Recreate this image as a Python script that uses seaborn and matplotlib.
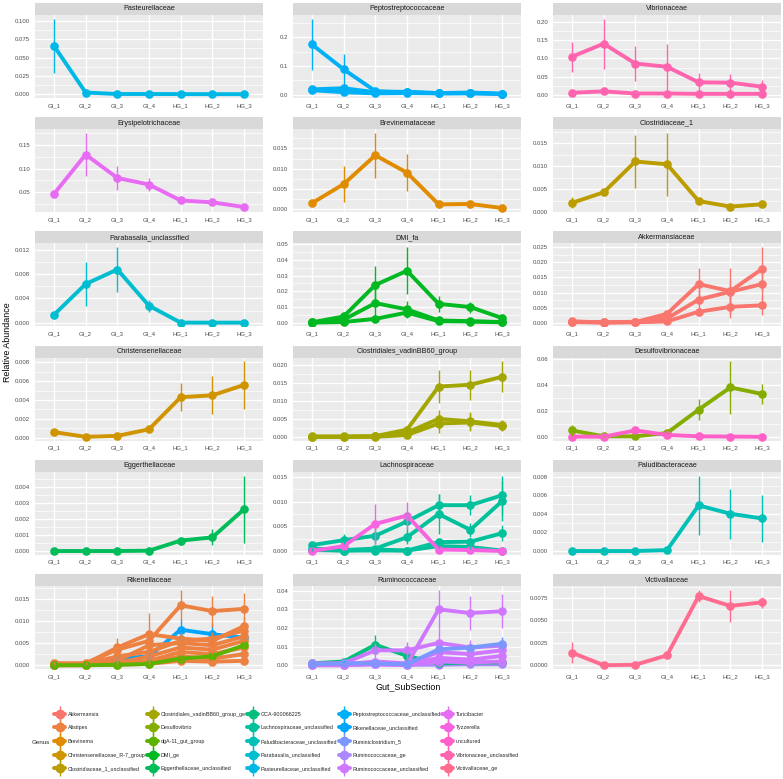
import numpy as np
import pandas as pd
import matplotlib
matplotlib.use("Agg")
import matplotlib.pyplot as plt
from matplotlib.lines import Line2D
from matplotlib.legend_handler import HandlerTuple
from matplotlib.ticker import FixedLocator, MultipleLocator
import seaborn as sns

SECTIONS = ["GI_1", "GI_2", "GI_3", "GI_4", "HG_1", "HG_2", "HG_3"]

FAMILIES = [
    "Pasteurellaceae", "Peptostreptococcaceae", "Vibrionaceae",
    "Erysipelotrichaceae", "Brevinemataceae", "Clostridiaceae_1",
    "Parabasalia_unclassified", "DMI_fa", "Akkermansiaceae",
    "Christensenellaceae", "Clostridiales_vadinBB60_group", "Desulfovibrionaceae",
    "Eggerthellaceae", "Lachnospiraceae", "Paludibacteraceae",
    "Rikenellaceae", "Ruminococcaceae", "Victivallaceae",
]

GENERA = [
    "Akkermansia", "Alistipes", "Brevinema", "Christensenellaceae_R-7_group",
    "Clostridiaceae_1_unclassified", "Clostridiales_vadinBB60_group_ge",
    "Desulfovibrio", "dgA-11_gut_group", "DMI_ge", "Eggerthellaceae_unclassified",
    "GCA-900066225", "Lachnospiraceae_unclassified", "Paludibacteraceae_unclassified",
    "Parabasalia_unclassified", "Pasteurellaceae_unclassified",
    "Peptostreptococcaceae_unclassified", "Rikenellaceae_unclassified",
    "Ruminiclostridium_5", "Ruminococcaceae_ge", "Ruminococcaceae_unclassified",
    "Turicibacter", "Tyzzerella", "uncultured", "Vibrionaceae_unclassified",
    "Victivallaceae_ge",
]

# (genus, mean per section, standard error per section)
PASTEURELLACEAE = [
    ("Pasteurellaceae_unclassified",
     [0.066, 0.0025, 0.0005, 0.0005, 0.0004, 0.0003, 0.0003],
     [0.037, 0.001, 0.0002, 0.0002, 0.0001, 0.0001, 0.0001]),
]
PEPTOSTREPTOCOCCACEAE = [
    ("Peptostreptococcaceae_unclassified",
     [0.175, 0.088, 0.012, 0.008, 0.004, 0.005, 0.002],
     [0.090, 0.053, 0.003, 0.002, 0.001, 0.001, 0.001]),
    ("Peptostreptococcaceae_unclassified",
     [0.018, 0.022, 0.008, 0.010, 0.005, 0.007, 0.003],
     [0.004, 0.006, 0.002, 0.002, 0.001, 0.002, 0.001]),
    ("Peptostreptococcaceae_unclassified",
     [0.015, 0.008, 0.004, 0.005, 0.004, 0.004, 0.002],
     [0.003, 0.002, 0.001, 0.001, 0.001, 0.001, 0.001]),
]
VIBRIONACEAE = [
    ("Vibrionaceae_unclassified",
     [0.105, 0.141, 0.086, 0.077, 0.034, 0.033, 0.022],
     [0.042, 0.069, 0.048, 0.063, 0.025, 0.025, 0.018]),
    ("Vibrionaceae_unclassified",
     [0.005, 0.009, 0.003, 0.003, 0.002, 0.002, 0.002],
     [0.002, 0.003, 0.001, 0.001, 0.001, 0.001, 0.001]),
]
ERYSIPELOTRICHACEAE = [
    ("Turicibacter",
     [0.046, 0.130, 0.080, 0.066, 0.032, 0.028, 0.018],
     [0.004, 0.046, 0.025, 0.014, 0.004, 0.003, 0.003]),
]
BREVINEMATACEAE = [
    ("Brevinema",
     [0.0015, 0.0062, 0.0133, 0.0090, 0.0012, 0.0013, 0.0003],
     [0.0003, 0.0044, 0.0055, 0.0046, 0.0003, 0.0003, 0.0001]),
]
CLOSTRIDIACEAE_1 = [
    ("Clostridiaceae_1_unclassified",
     [0.0020, 0.0043, 0.0110, 0.0104, 0.0024, 0.0012, 0.0017],
     [0.0012, 0.0007, 0.0058, 0.0068, 0.0004, 0.0002, 0.0002]),
]
PARABASALIA = [
    ("Parabasalia_unclassified",
     [0.0013, 0.0064, 0.0088, 0.0028, 0.0000, 0.0000, 0.0000],
     [0.0002, 0.0036, 0.0037, 0.0010, 0.0000, 0.0000, 0.0000]),
]
DMI_FA = [
    ("DMI_ge",
     [0.0003, 0.0040, 0.0240, 0.0330, 0.0120, 0.0100, 0.0030],
     [0.0001, 0.0030, 0.0120, 0.0150, 0.0050, 0.0035, 0.0020]),
    ("DMI_ge",
     [0.0002, 0.0020, 0.0125, 0.0085, 0.0015, 0.0010, 0.0005],
     [0.0001, 0.0010, 0.0110, 0.0055, 0.0005, 0.0004, 0.0002]),
    ("DMI_ge",
     [0.0001, 0.0005, 0.0025, 0.0065, 0.0010, 0.0008, 0.0003],
     [0.0000, 0.0003, 0.0015, 0.0030, 0.0004, 0.0003, 0.0001]),
]
AKKERMANSIACEAE = [
    ("Akkermansia",
     [0.0005, 0.0002, 0.0003, 0.0030, 0.0128, 0.0105, 0.0178],
     [0.0002, 0.0001, 0.0001, 0.0008, 0.0052, 0.0075, 0.0072]),
    ("Akkermansia",
     [0.0004, 0.0002, 0.0004, 0.0015, 0.0077, 0.0103, 0.0128],
     [0.0002, 0.0001, 0.0001, 0.0005, 0.0035, 0.0040, 0.0048]),
    ("Akkermansia",
     [0.0003, 0.0001, 0.0002, 0.0005, 0.0037, 0.0053, 0.0058],
     [0.0001, 0.0000, 0.0001, 0.0002, 0.0015, 0.0038, 0.0032]),
]
CHRISTENSENELLACEAE = [
    ("Christensenellaceae_R-7_group",
     [0.0006, 0.0001, 0.0002, 0.0009, 0.0043, 0.0045, 0.0056],
     [0.0001, 0.0000, 0.0001, 0.0002, 0.0015, 0.0020, 0.0025]),
]
VADINBB60 = [
    ("Clostridiales_vadinBB60_group_ge",
     [0.0001, 0.0001, 0.0002, 0.0020, 0.0140, 0.0145, 0.0167],
     [0.0000, 0.0000, 0.0001, 0.0004, 0.0045, 0.0042, 0.0043]),
    ("Clostridiales_vadinBB60_group_ge",
     [0.0000, 0.0000, 0.0001, 0.0012, 0.0050, 0.0043, 0.0033],
     [0.0000, 0.0000, 0.0000, 0.0003, 0.0025, 0.0025, 0.0015]),
    ("Clostridiales_vadinBB60_group_ge",
     [0.0000, 0.0000, 0.0000, 0.0005, 0.0037, 0.0040, 0.0030],
     [0.0000, 0.0000, 0.0000, 0.0002, 0.0027, 0.0025, 0.0015]),
]
DESULFOVIBRIONACEAE = [
    ("Desulfovibrio",
     [0.0050, 0.0005, 0.0005, 0.0030, 0.0210, 0.0380, 0.0330],
     [0.0040, 0.0002, 0.0002, 0.0010, 0.0080, 0.0200, 0.0080]),
    ("uncultured",
     [0.0003, 0.0002, 0.0050, 0.0015, 0.0005, 0.0003, 0.0001],
     [0.0001, 0.0001, 0.0015, 0.0005, 0.0002, 0.0001, 0.0000]),
]
EGGERTHELLACEAE = [
    ("Eggerthellaceae_unclassified",
     [0.0, 0.0, 0.0, 0.00002, 0.00065, 0.00085, 0.0026],
     [0.0, 0.0, 0.0, 0.00001, 0.00025, 0.0005, 0.0021]),
]
LACHNOSPIRACEAE = [
    ("Lachnospiraceae_unclassified",
     [0.0012, 0.0022, 0.0031, 0.0060, 0.0093, 0.0093, 0.0113],
     [0.0003, 0.0012, 0.0016, 0.0022, 0.0022, 0.0020, 0.0040]),
    ("Lachnospiraceae_unclassified",
     [0.0005, 0.0002, 0.0005, 0.0028, 0.0075, 0.0043, 0.0101],
     [0.0002, 0.0001, 0.0002, 0.0013, 0.0040, 0.0014, 0.0040]),
    ("Lachnospiraceae_unclassified",
     [0.0003, 0.0001, 0.0003, 0.0001, 0.0018, 0.0019, 0.0036],
     [0.0001, 0.0000, 0.0001, 0.0000, 0.0005, 0.0005, 0.0016]),
    ("Lachnospiraceae_unclassified",
     [0.0002, 0.0001, 0.0001, 0.0001, 0.0010, 0.0008, 0.0001],
     [0.0001, 0.0000, 0.0000, 0.0000, 0.0003, 0.0003, 0.0000]),
    ("Tyzzerella",
     [0.0000, 0.0010, 0.0055, 0.0072, 0.0003, 0.0002, 0.0000],
     [0.0000, 0.0005, 0.0040, 0.0028, 0.0001, 0.0001, 0.0000]),
]
PALUDIBACTERACEAE = [
    ("Paludibacteraceae_unclassified",
     [0.0, 0.0, 0.0, 0.0001, 0.0049, 0.0040, 0.0035],
     [0.0, 0.0, 0.0, 0.00005, 0.0032, 0.0027, 0.0025]),
]
RIKENELLACEAE = [
    ("Rikenellaceae_unclassified",
     [0.0001, 0.0002, 0.0015, 0.0020, 0.0080, 0.0070, 0.0062],
     [0.0001, 0.0001, 0.0008, 0.0010, 0.0025, 0.0025, 0.0017]),
    ("Alistipes",
     [0.0003, 0.0005, 0.0035, 0.0055, 0.0135, 0.0122, 0.0127],
     [0.0001, 0.0002, 0.0012, 0.0015, 0.0035, 0.0035, 0.0036]),
    ("Alistipes",
     [0.0005, 0.0003, 0.0040, 0.0070, 0.0060, 0.0055, 0.0088],
     [0.0002, 0.0001, 0.0022, 0.0048, 0.0015, 0.0015, 0.0020]),
    ("Alistipes",
     [0.0002, 0.0003, 0.0020, 0.0030, 0.0055, 0.0060, 0.0078],
     [0.0001, 0.0001, 0.0008, 0.0010, 0.0015, 0.0015, 0.0018]),
    ("Alistipes",
     [0.0001, 0.0002, 0.0010, 0.0045, 0.0050, 0.0045, 0.0065],
     [0.0001, 0.0001, 0.0005, 0.0015, 0.0012, 0.0012, 0.0015]),
    ("Alistipes",
     [0.0001, 0.0001, 0.0005, 0.0020, 0.0040, 0.0035, 0.0055],
     [0.0000, 0.0000, 0.0002, 0.0008, 0.0010, 0.0010, 0.0012]),
    ("Alistipes",
     [0.0000, 0.0001, 0.0003, 0.0010, 0.0030, 0.0025, 0.0040],
     [0.0000, 0.0000, 0.0001, 0.0004, 0.0008, 0.0008, 0.0010]),
    ("Alistipes",
     [0.0000, 0.0000, 0.0002, 0.0005, 0.0020, 0.0015, 0.0025],
     [0.0000, 0.0000, 0.0001, 0.0002, 0.0006, 0.0005, 0.0007]),
    ("Alistipes",
     [0.0000, 0.0000, 0.0001, 0.0003, 0.0010, 0.0008, 0.0010],
     [0.0000, 0.0000, 0.0000, 0.0001, 0.0003, 0.0003, 0.0003]),
    ("dgA-11_gut_group",
     [0.0000, 0.0000, 0.0001, 0.0003, 0.0015, 0.0020, 0.0045],
     [0.0000, 0.0000, 0.0000, 0.0001, 0.0005, 0.0006, 0.0008]),
]
RUMINOCOCCACEAE = [
    ("Ruminococcaceae_ge",
     [0.0002, 0.0002, 0.0005, 0.0002, 0.0003, 0.0005, 0.0005],
     [0.0001, 0.0001, 0.0002, 0.0001, 0.0001, 0.0002, 0.0002]),
    ("GCA-900066225",
     [0.0010, 0.0020, 0.0110, 0.0050, 0.0010, 0.0015, 0.0015],
     [0.0003, 0.0005, 0.0050, 0.0020, 0.0004, 0.0005, 0.0005]),
    ("Ruminococcaceae_unclassified",
     [0.0005, 0.0010, 0.0005, 0.0005, 0.0300, 0.0280, 0.0290],
     [0.0002, 0.0003, 0.0002, 0.0002, 0.0105, 0.0090, 0.0090]),
    ("Ruminococcaceae_unclassified",
     [0.0010, 0.0010, 0.0080, 0.0080, 0.0120, 0.0095, 0.0105],
     [0.0003, 0.0003, 0.0040, 0.0045, 0.0075, 0.0040, 0.0040]),
    ("Ruminococcaceae_unclassified",
     [0.0005, 0.0005, 0.0020, 0.0010, 0.0070, 0.0060, 0.0080],
     [0.0002, 0.0002, 0.0008, 0.0004, 0.0025, 0.0020, 0.0025]),
    ("Ruminococcaceae_unclassified",
     [0.0000, 0.0000, 0.0010, 0.0005, 0.0040, 0.0030, 0.0050],
     [0.0000, 0.0000, 0.0004, 0.0002, 0.0015, 0.0012, 0.0015]),
    ("Ruminococcaceae_unclassified",
     [0.0000, 0.0000, 0.0005, 0.0000, 0.0020, 0.0015, 0.0020],
     [0.0000, 0.0000, 0.0002, 0.0000, 0.0008, 0.0006, 0.0008]),
    ("Ruminiclostridium_5",
     [0.0005, 0.0010, 0.0010, 0.0005, 0.0085, 0.0095, 0.0115],
     [0.0002, 0.0003, 0.0004, 0.0002, 0.0020, 0.0020, 0.0035]),
]
VICTIVALLACEAE = [
    ("Victivallaceae_ge",
     [0.0014, 0.0000, 0.00005, 0.0011, 0.0077, 0.0066, 0.0070],
     [0.0012, 0.0000, 0.00005, 0.0003, 0.0007, 0.0018, 0.0006]),
]

Y_TICKS = {
    "Pasteurellaceae": ["0.000", "0.025", "0.050", "0.075", "0.100"],
    "Peptostreptococcaceae": ["0.0", "0.1", "0.2"],
    "Vibrionaceae": ["0.00", "0.05", "0.10", "0.15", "0.20"],
    "Erysipelotrichaceae": ["0.05", "0.10", "0.15"],
    "Brevinemataceae": ["0.000", "0.005", "0.010", "0.015"],
    "Clostridiaceae_1": ["0.000", "0.005", "0.010", "0.015"],
    "Parabasalia_unclassified": ["0.000", "0.004", "0.008", "0.012"],
    "DMI_fa": ["0.00", "0.01", "0.02", "0.03", "0.04", "0.05"],
    "Akkermansiaceae": ["0.000", "0.005", "0.010", "0.015", "0.020", "0.025"],
    "Christensenellaceae": ["0.000", "0.002", "0.004", "0.006", "0.008"],
    "Clostridiales_vadinBB60_group": ["0.000", "0.005", "0.010", "0.015", "0.020"],
    "Desulfovibrionaceae": ["0.00", "0.02", "0.04", "0.06"],
    "Eggerthellaceae": ["0.000", "0.001", "0.002", "0.003", "0.004"],
    "Lachnospiraceae": ["0.000", "0.005", "0.010", "0.015"],
    "Paludibacteraceae": ["0.000", "0.002", "0.004", "0.006", "0.008"],
    "Rikenellaceae": ["0.000", "0.005", "0.010", "0.015"],
    "Ruminococcaceae": ["0.00", "0.01", "0.02", "0.03", "0.04"],
    "Victivallaceae": ["0.0000", "0.0025", "0.0050", "0.0075"],
}

FAMILY_DATA = dict(zip(FAMILIES, [
    PASTEURELLACEAE, PEPTOSTREPTOCOCCACEAE, VIBRIONACEAE,
    ERYSIPELOTRICHACEAE, BREVINEMATACEAE, CLOSTRIDIACEAE_1,
    PARABASALIA, DMI_FA, AKKERMANSIACEAE,
    CHRISTENSENELLACEAE, VADINBB60, DESULFOVIBRIONACEAE,
    EGGERTHELLACEAE, LACHNOSPIRACEAE, PALUDIBACTERACEAE,
    RIKENELLACEAE, RUMINOCOCCACEAE, VICTIVALLACEAE,
]))


def hue_pal(n, c=100.0, l=65.0):
    """ggplot2 default discrete palette (hcl polarLUV -> sRGB)."""
    hues = np.deg2rad((15 + 360 * np.arange(n) / n) % 360)
    xn, yn, zn = 95.047, 100.0, 108.883
    un = 4 * xn / (xn + 15 * yn + 3 * zn)
    vn = 9 * yn / (xn + 15 * yn + 3 * zn)
    y = yn * ((l + 16) / 116) ** 3
    out = []
    for h in hues:
        u, v = c * np.cos(h), c * np.sin(h)
        up = u / (13 * l) + un
        vp = v / (13 * l) + vn
        x = 9.0 * y * up / (4 * vp)
        z = -x / 3 - 5 * y + 3 * y / vp
        m = np.array([[3.240479, -1.537150, -0.498535],
                      [-0.969256, 1.875992, 0.041556],
                      [0.055648, -0.204043, 1.057311]])
        rgb = m @ (np.array([x, y, z]) / 100.0)
        rgb = np.where(rgb <= 0.0031308, 12.92 * rgb, 1.055 * np.abs(rgb) ** (1 / 2.4) - 0.055)
        out.append(tuple(np.clip(rgb, 0, 1)))
    return out


PALETTE = dict(zip(GENERA, hue_pal(len(GENERA))))


def build_frame():
    rows = []
    for fam in FAMILIES:
        for k, (genus, means, ses) in enumerate(FAMILY_DATA[fam]):
            for pos, (sec, m, s) in enumerate(zip(SECTIONS, means, ses)):
                rows.append({"family": fam, "genus": genus, "otu": f"{fam}_{k}",
                             "section": sec, "pos": pos, "mean": m,
                             "lo": m - s, "hi": m + s})
    return pd.DataFrame(rows)


df = build_frame()

sns.set_style("white")
plt.rcParams["font.family"] = ["Liberation Sans", "DejaVu Sans"]

W, H = 783, 779
fig = plt.figure(figsize=(W / 100, H / 100), dpi=100)

COL_LEFT = [35, 293, 553]
PW = 228
STRIP_H = 12
PH = 83
PITCH = 114.2

for i, fam in enumerate(FAMILIES):
    r, c = divmod(i, 3)
    left = COL_LEFT[c]
    top = 3 + PITCH * r

    sax = fig.add_axes([left / W, 1 - (top + STRIP_H) / H, PW / W, STRIP_H / H])
    sax.set_facecolor("#D9D9D9")
    sax.set_xticks([])
    sax.set_yticks([])
    for sp in sax.spines.values():
        sp.set_visible(False)
    sax.text(0.5, 0.5, fam, ha="center", va="center", fontsize=5.2,
             color="#1A1A1A", transform=sax.transAxes)

    ax = fig.add_axes([left / W, 1 - (top + STRIP_H + PH) / H, PW / W, PH / H])
    ax.set_facecolor("#EBEBEB")
    sub = df[df["family"] == fam]

    ax.vlines(sub["pos"], sub["lo"], sub["hi"],
              colors=[PALETTE[g] for g in sub["genus"]], lw=1.0, zorder=2.5)
    sns.lineplot(data=sub, x="pos", y="mean", hue="genus", units="otu",
                 estimator=None, sort=False,
                 palette={g: PALETTE[g] for g in sub["genus"].unique()},
                 lw=2.8, marker="o", ms=6.2, mew=0, legend=False, ax=ax, zorder=2)

    lo, hi = sub["lo"].min(), sub["hi"].max()
    pad = (hi - lo) * 0.05
    ax.set_ylim(lo - pad, hi + pad)
    ax.set_xlim(-0.6, 6.6)

    labels = Y_TICKS[fam]
    vals = [float(t) for t in labels]
    ax.yaxis.set_major_locator(FixedLocator(vals))
    ax.set_yticklabels(labels)
    ax.yaxis.set_minor_locator(MultipleLocator((vals[1] - vals[0]) / 2))
    ax.set_xticks(range(len(SECTIONS)))
    ax.set_xticklabels(SECTIONS)

    ax.grid(which="major", color="white", lw=1.0)
    ax.grid(which="minor", axis="y", color="white", lw=0.5)
    ax.set_axisbelow(True)
    ax.tick_params(which="major", labelsize=4.3, labelcolor="#4D4D4D",
                   color="#333333", length=2, width=0.6, pad=1.5)
    ax.tick_params(which="minor", length=0)
    for sp in ax.spines.values():
        sp.set_visible(False)
    ax.set_xlabel("")
    ax.set_ylabel("")

fig.text(8 / W, 1 - 342 / H, "Relative Abundance", rotation=90, ha="center",
         va="center", fontsize=6.4, color="black")
fig.text((35 + 781) / 2 / W, 1 - 687 / H, "Gut_SubSection", ha="center",
         va="center", fontsize=6.4, color="black")

handles = []
for g in GENERA:
    col = PALETTE[g]
    handles.append((
        Line2D([], [], color=col, lw=2.8, marker="o", ms=6),
        Line2D([], [], color=col, ls="none", marker="|", ms=11, mew=1.0),
    ))
leg = fig.legend(handles, GENERA, ncol=5, loc="upper left",
                 bbox_to_anchor=(51.5 / W, 1 - 709 / H), frameon=False,
                 fontsize=3.9, handlelength=2.0, handletextpad=0.5,
                 columnspacing=0.3, labelspacing=1.6, borderpad=0,
                 handler_map={tuple: HandlerTuple(ndivide=1)})
fig.text(32 / W, 1 - 742 / H, "Genus", ha="left", va="center", fontsize=4.5)

fig.savefig("out.png", dpi=100)
